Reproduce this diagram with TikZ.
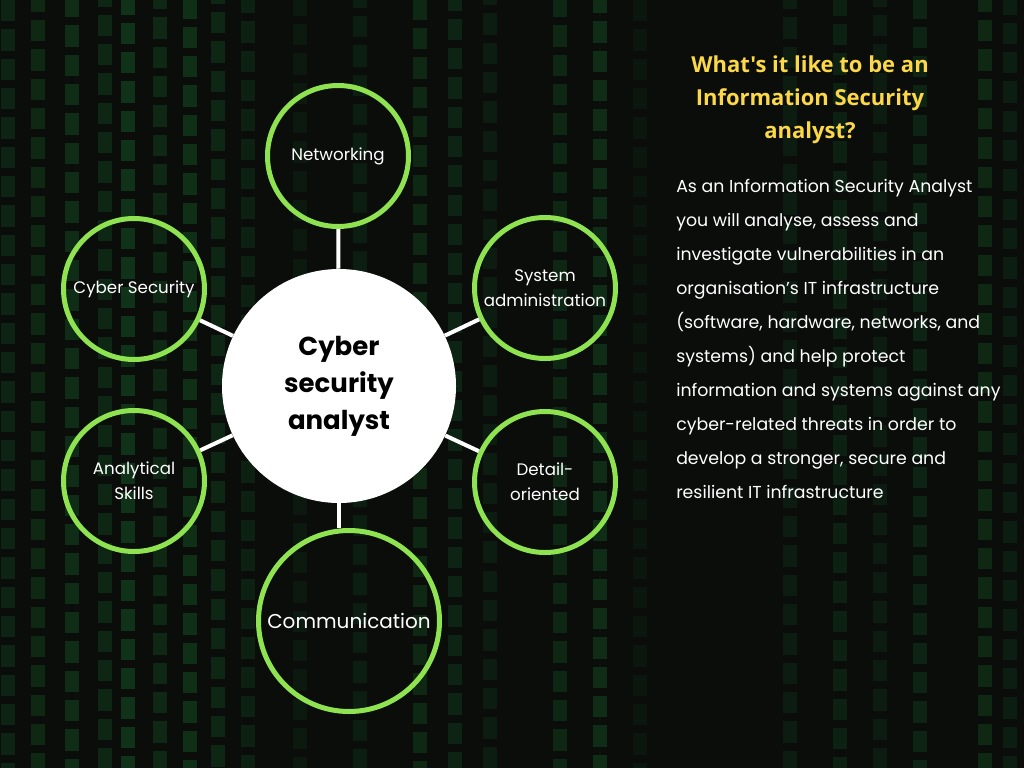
\documentclass[tikz,border=0pt]{standalone}
\usepackage{fontspec}
\setmainfont{Poppins}
\newfontfamily\titlefont{Open Sans}
\usetikzlibrary{positioning}
\definecolor{ringgreen}{HTML}{8FE350}
\definecolor{titleyellow}{HTML}{FCD848}
\definecolor{bgdark}{HTML}{0A0D0A}
\definecolor{glyphgreen}{HTML}{1F8A3C}

\begin{document}
\begin{tikzpicture}[x=0.75pt,y=-0.75pt,
    skill/.style={draw=ringgreen,line width=3.75pt,circle,minimum size=105.75pt,inner sep=0pt,
      align=center,text=white,font=\fontsize{12.5}{18.75}\selectfont},
    hub/.style={fill=white,circle,minimum size=175.5pt,inner sep=0pt,align=center,
      font=\fontsize{19.5}{27.75}\selectfont\bfseries},
    link/.style={draw=white,line width=3pt}]
    % background
    \useasboundingbox (0,0) rectangle (1024,768);
    \fill[bgdark] (0,0) rectangle (1024,768);
    \begin{scope}
    \clip (0,0) rectangle (1024,768);
    \foreach \cx/\op/\ph in {8/0.18/0,38/0.22/7,72/0.25/3,105/0.2/11,128/0.3/5,160/0.22/9,190/0.28/2,
        218/0.2/13,248/0.16/6,300/0.1/4,360/0.14/10,420/0.22/1,455/0.18/8,490/0.12/12,560/0.2/3,
        600/0.25/6,640/0.08/0,790/0.12/9,840/0.16/4,880/0.12/11,920/0.18/2,985/0.22/7,1010/0.14/5}
      \draw[glyphgreen,opacity=\op,line width=10.5pt,dash pattern=on 16pt off 6pt,
        dash phase=\ph pt] (\cx,0) -- (\cx,768);
    \end{scope}

    % mind map
    \node[hub]   (cen) at (339,386) {Cyber\\security\\analyst};
    \node[skill] (net) at (338,156) {Networking};
    \node[skill] (sec) at (134,289) {Cyber Security};
    \node[skill] (sys) at (545,288) {System\\administration};
    \node[skill] (ana) at (134,481) {Analytical\\Skills};
    \node[skill] (det) at (545,482) {Detail-\\oriented};
    \node[skill,minimum size=135.75pt,font=\fontsize{15}{20}\selectfont] (com) at (349,621) {Communication};
    \draw[link] (cen) -- (net);
    \draw[link] (cen) -- (sec);
    \draw[link] (cen) -- (sys);
    \draw[link] (cen) -- (ana);
    \draw[link] (cen) -- (det);
    \draw[link] (cen.south) -- (cen.south |- com.north);

    % description
    \node[text=titleyellow,align=center,font=\titlefont\fontsize{16.5}{24.75}\selectfont\bfseries]
      (ttl) at (810,100) {What's it like to be an\\Information Security\\analyst?};
    \node[text=white,align=left,anchor=north west,inner sep=0pt,
      font=\fontsize{13}{25.5}\selectfont] (txt) at (676,179)
      {As an Information Security Analyst\\
       you will analyse, assess and\\
       investigate vulnerabilities in an\\
       organisation’s IT infrastructure\\
       (software, hardware, networks, and\\
       systems) and help protect\\
       information and systems against any\\
       cyber-related threats in order to\\
       develop a stronger, secure and\\
       resilient IT infrastructure};
  \end{tikzpicture}
\end{document}
